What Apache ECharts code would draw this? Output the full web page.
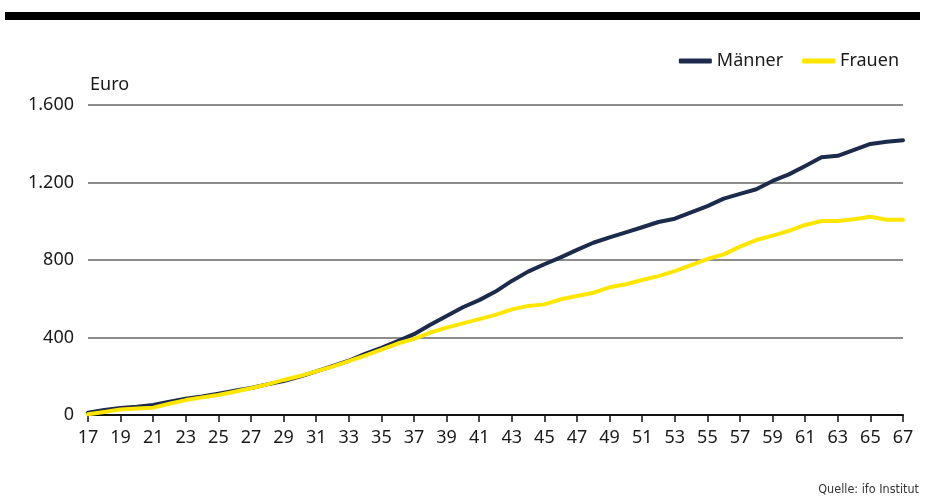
<!DOCTYPE html>
<html>
<head>
<meta charset="utf-8">
<script src="https://cdn.jsdelivr.net/npm/echarts@6/dist/echarts.min.js"></script>
<style>
html,body{margin:0;padding:0;background:#fff;}
#c{width:934px;height:502px;}
</style>
</head>
<body>
<div id="c"></div>
<script>
const ages = [];
for (let a = 17; a <= 67; a++) ages.push(String(a));
const maenner = [12,26,36,43,52,69,84,96,110,125,139,158,175,198,225,252,280,316,347,381,417,466,511,556,593,637,692,740,778,814,852,889,917,943,969,996,1013,1046,1078,1117,1141,1165,1208,1242,1285,1330,1338,1368,1399,1410,1418];
const frauen = [4,16,29,34,38,58,77,91,103,120,138,158,181,201,225,250,278,307,337,369,393,425,451,473,495,517,545,563,571,597,614,631,659,675,697,717,743,774,805,829,869,903,926,950,981,1001,1001,1010,1023,1008,1008];
const yTicks = [0, 400, 800, 1200, 1600];
const seriesNames = ['Männer', 'Frauen'];
const unitLabel = 'Euro';
const sourceLabel = 'Quelle: ifo Institut';

const font = '"Noto Sans", "Open Sans", sans-serif';
const chart = echarts.init(document.getElementById('c'), null, {renderer: 'canvas'});
chart.setOption({
  animation: false,
  backgroundColor: '#fff',
  grid: {left: 88, right: 31, top: 105, bottom: 87, containLabel: false},
  legend: {
    right: 30, top: 47,
    itemWidth: 33, itemHeight: 5, itemGap: 19,
    icon: 'roundRect',
    textStyle: {fontFamily: font, fontSize: 18, color: '#1a1a1a', padding: [0, 0, 0, 0]},
    data: seriesNames
  },
  xAxis: {
    type: 'category',
    data: ages,
    boundaryGap: false,
    axisLine: {lineStyle: {color: '#111', width: 2}},
    axisTick: {interval: 1, length: 7, lineStyle: {color: '#111', width: 1.5}},
    axisLabel: {interval: 1, fontFamily: font, fontSize: 18, color: '#1a1a1a', margin: 14}
  },
  yAxis: {
    type: 'value',
    min: 0, max: 1600, interval: 400,
    axisLine: {show: false},
    axisTick: {show: false},
    splitLine: {lineStyle: {color: '#666', width: 1.5}},
    axisLabel: {
      fontFamily: font, fontSize: 18, color: '#1a1a1a', margin: 14,
      formatter: v => yTicks.includes(v) ? v.toLocaleString('de-DE') : ''
    }
  },
  graphic: [
    {type: 'rect', left: 5, top: 12, shape: {width: 915, height: 8}, style: {fill: '#000'}},
    {type: 'text', left: 90, top: 76, style: {text: unitLabel, font: '18px ' + font, fill: '#1a1a1a'}},
    {type: 'text', right: 15, top: 483, style: {text: sourceLabel, font: '12.5px "Liberation Sans Narrow", "DejaVu Sans Condensed", sans-serif', fill: '#333'}}
  ],
  series: [
    {name: seriesNames[0], type: 'line', data: maenner, symbol: 'none', smooth: false,
     lineStyle: {color: '#1c2a4b', width: 4, cap: 'round', join: 'round'}, itemStyle: {color: '#1c2a4b'}, z: 2},
    {name: seriesNames[1], type: 'line', data: frauen, symbol: 'none', smooth: false,
     lineStyle: {color: '#ffe600', width: 4, cap: 'round', join: 'round'}, itemStyle: {color: '#ffe600'}, z: 3}
  ]
});
</script>
</body>
</html>
